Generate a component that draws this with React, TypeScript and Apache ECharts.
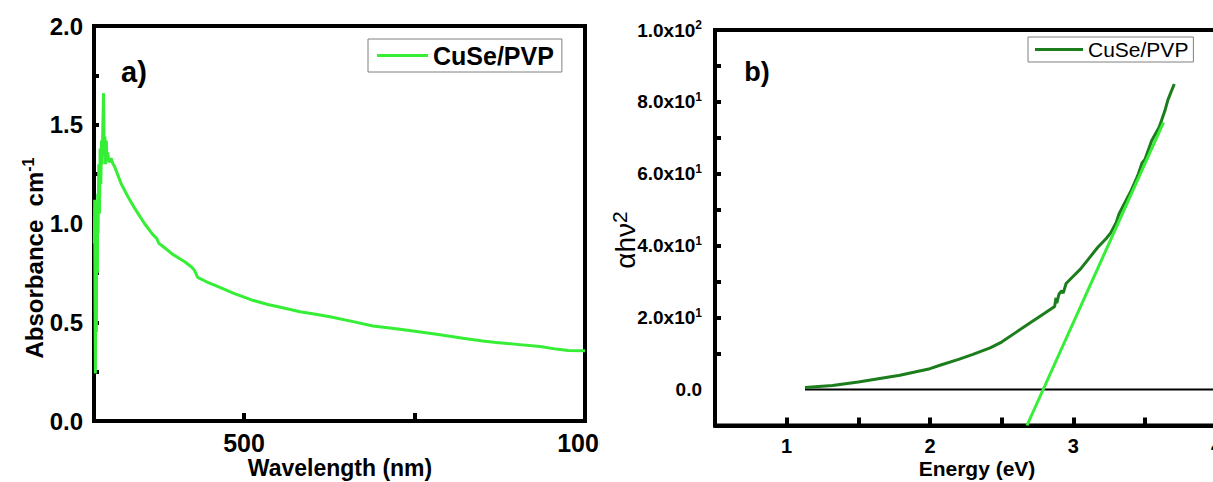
import React, { useEffect, useRef } from "react";
import * as echarts from "echarts";

// ---------- Panel a) data ----------
const wavelengthNm = [
  280.5, 281, 281.5, 282, 282.5, 283, 283.5, 284, 285, 285.5, 286, 287, 288, 289, 290,
  291, 292, 293, 294, 295, 296, 297, 298, 299, 300, 302, 305, 308, 310, 315, 320, 330,
  340, 354, 366, 372, 375, 379, 395, 413, 423, 427, 432, 445, 462, 486, 511, 535, 560,
  582, 605, 626, 660, 689, 720, 748, 785, 821, 850, 870, 900, 934, 958, 975, 1000,
];
const absorbance = [
  0.9, 1.12, 0.6, 0.24, 0.5, 0.9, 0.45, 1.1, 0.75, 1.15, 0.95, 1.3, 1.05, 1.38, 1.2,
  1.42, 1.3, 1.5, 1.66, 1.35, 1.44, 1.3, 1.42, 1.32, 1.36, 1.31, 1.33, 1.3, 1.29, 1.245,
  1.2, 1.134, 1.075, 1.0, 0.945, 0.925, 0.9, 0.89, 0.845, 0.806, 0.78, 0.765, 0.727,
  0.705, 0.68, 0.645, 0.613, 0.59, 0.571, 0.553, 0.54, 0.528, 0.503, 0.481, 0.468,
  0.456, 0.438, 0.419, 0.405, 0.397, 0.388, 0.377, 0.364, 0.357, 0.356,
];
const aXLabelValues = [500, 1000];
const aXTickValues = [500, 750];
const aYTickValues = [0.25, 0.5, 0.75, 1, 1.25, 1.5, 1.75];

// ---------- Panel b) data ----------
const energyEv = [
  1.128, 1.32, 1.5, 1.79, 2.0, 2.07, 2.2, 2.3, 2.42, 2.5, 2.6, 2.7, 2.8, 2.87, 2.88,
  2.885, 2.9, 2.92, 2.93, 2.95, 3.0, 3.05, 3.11, 3.17, 3.23, 3.26, 3.3, 3.32, 3.36, 3.38,
  3.4, 3.43, 3.45, 3.48, 3.5, 3.547, 3.6, 3.64, 3.66, 3.68, 3.705,
];
const ahv2 = [
  0.55, 1.1, 2.1, 4.0, 5.8, 6.75, 8.4, 9.8, 11.6, 13.2, 15.9, 18.6, 21.2, 23.1, 25.5,
  24.0, 26.5, 27.5, 26.8, 29.5, 31.5, 33.5, 36.5, 39.5, 42, 43.5, 46.5, 48.9, 52, 53.5,
  55, 57.7, 59.5, 63, 64, 69.2, 73, 77.6, 80.5, 82.5, 85,
];
const fitEnergy = [2.677, 3.63];
const fitValue = [-10, 74.3];
const zeroEnergy = [1.128, 4.5];
const zeroValue = [0, 0];
const bXLabelValues = [1, 2, 3, 4];
const bXTickValues = [1, 1.5, 2, 2.5, 3, 3.5, 4];
const bYLabelValues = [0, 20, 40, 60, 80, 100];
const bYTickValues = [10, 20, 30, 40, 50, 60, 70, 80, 90];

const LEGEND_NAME = "CuSe/PVP";
const FONT = "'Liberation Sans', Arial, Helvetica, sans-serif";
const BRIGHT = "#36ee36";
const DARK = "#1c7d1c";

const zip = (xs: number[], ys: number[]) => xs.map((x, i) => [x, ys[i]]);

function sciLabel(v: number): string {
  if (v === 0) return "{m|0.0}";
  const exp = Math.floor(Math.log10(Math.abs(v)) + 1e-9);
  const mant = v / Math.pow(10, exp);
  return `{m|${mant.toFixed(1)}x10}{s|${exp}}`;
}

export default function App() {
  const leftRef = useRef<HTMLDivElement>(null);
  const rightRef = useRef<HTMLDivElement>(null);

  useEffect(() => {
    if (!leftRef.current || !rightRef.current) return;
    const left = echarts.init(leftRef.current, undefined, { renderer: "svg" });
    const right = echarts.init(rightRef.current, undefined, { renderer: "svg" });

    const axisLine = { show: true, onZero: false, lineStyle: { color: "#000", width: 4 } };

    left.setOption({
      animation: false,
      backgroundColor: "#fff",
      grid: {
        left: 94,
        top: 26,
        right: 15,
        bottom: 61,
        containLabel: false,
        outerBoundsMode: "none",
        show: true,
        borderColor: "#000",
        borderWidth: 4,
      },
      xAxis: {
        type: "value",
        min: 280,
        max: 1000,
        axisLine,
        axisTick: {
          show: true,
          inside: true,
          length: 8,
          customValues: aXTickValues,
          lineStyle: { color: "#000", width: 4 },
        },
        axisLabel: {
          customValues: aXLabelValues,
          formatter: (v: number) => String(v),
          color: "#000",
          fontSize: 25,
          fontWeight: "bold",
          fontFamily: FONT,
          margin: 9,
        },
        splitLine: { show: false },
      },
      yAxis: {
        type: "value",
        min: 0,
        max: 2,
        interval: 0.5,
        axisLine,
        axisTick: {
          show: true,
          inside: true,
          length: 5,
          customValues: aYTickValues,
          lineStyle: { color: "#000", width: 4 },
        },
        axisLabel: {
          formatter: (v: number) => v.toFixed(1),
          color: "#000",
          fontSize: 24,
          fontWeight: "bold",
          fontFamily: FONT,
          margin: 11,
        },
        splitLine: { show: false },
      },
      legend: {
        data: [{ name: LEGEND_NAME, icon: "rect" }],
        left: 368,
        top: 39,
        orient: "horizontal",
        padding: [4, 8, 4, 9],
        borderColor: "#808080",
        borderWidth: 1,
        itemWidth: 51,
        itemHeight: 3,
        itemGap: 5,
        textStyle: {
          color: "#000",
          fontSize: 25,
          fontWeight: "bold",
          fontFamily: FONT,
          lineHeight: 22,
        },
      },
      series: [
        {
          type: "line",
          name: LEGEND_NAME,
          data: zip(wavelengthNm, absorbance),
          symbol: "none",
          lineStyle: { color: BRIGHT, width: 3 },
          itemStyle: { color: BRIGHT },
        },
      ],
      graphic: [
        {
          type: "text",
          x: 134,
          y: 72,
          style: {
            text: "a)",
            fill: "#000",
            fontSize: 29,
            fontWeight: "bold",
            fontFamily: FONT,
            align: "center",
            verticalAlign: "middle",
          },
        },
        {
          type: "text",
          x: 34,
          y: 258,
          rotation: Math.PI / 2,
          style: {
            text: "{t|Absorbance  cm}{s|-1}",
            fill: "#000",
            align: "center",
            verticalAlign: "middle",
            rich: {
              t: { fontSize: 24, fontWeight: "bold", fontFamily: FONT, fill: "#000", lineHeight: 28 },
              s: { fontSize: 16, fontWeight: "bold", fontFamily: FONT, fill: "#000", lineHeight: 16, verticalAlign: "top" },
            },
          },
        },
        {
          type: "text",
          x: 340,
          y: 468,
          style: {
            text: "Wavelength (nm)",
            fill: "#000",
            fontSize: 23,
            fontWeight: "bold",
            fontFamily: FONT,
            align: "center",
            verticalAlign: "middle",
          },
        },
      ],
    });

    right.setOption({
      animation: false,
      backgroundColor: "#fff",
      grid: {
        left: 115,
        top: 30,
        width: 573.2,
        bottom: 56.5,
        containLabel: false,
        outerBoundsMode: "none",
        show: true,
        borderColor: "#000",
        borderWidth: 4,
      },
      xAxis: {
        type: "value",
        min: 0.5,
        max: 4.5,
        axisLine,
        axisTick: {
          show: true,
          inside: true,
          length: 8,
          customValues: bXTickValues,
          lineStyle: { color: "#000", width: 4 },
        },
        axisLabel: {
          customValues: bXLabelValues,
          formatter: (v: number) => String(v),
          color: "#000",
          fontSize: 20,
          fontWeight: "bold",
          fontFamily: FONT,
          margin: 10,
        },
        splitLine: { show: false },
      },
      yAxis: {
        type: "value",
        min: -10,
        max: 100,
        axisLine,
        axisTick: {
          show: true,
          inside: true,
          length: 6,
          customValues: bYTickValues,
          lineStyle: { color: "#000", width: 4 },
        },
        axisLabel: {
          customValues: bYLabelValues,
          formatter: (v: number) => sciLabel(v),
          color: "#000",
          fontSize: 19,
          fontWeight: "bold",
          fontFamily: FONT,
          margin: 13,
          rich: {
            m: { fontSize: 19, fontWeight: "bold", fontFamily: FONT, color: "#000", lineHeight: 22 },
            s: { fontSize: 12, fontWeight: "bold", fontFamily: FONT, color: "#000", lineHeight: 12, verticalAlign: "top" },
          },
        },
        splitLine: { show: false },
      },
      legend: {
        data: [{ name: LEGEND_NAME, icon: "rect" }],
        left: 428,
        top: 37,
        orient: "horizontal",
        padding: [2, 5, 2, 7],
        borderColor: "#808080",
        borderWidth: 1,
        itemWidth: 48,
        itemHeight: 3,
        itemGap: 5,
        textStyle: {
          color: "#000",
          fontSize: 21,
          fontFamily: FONT,
          lineHeight: 21,
        },
      },
      series: [
        {
          type: "line",
          name: "zero",
          data: zip(zeroEnergy, zeroValue),
          symbol: "none",
          lineStyle: { color: "#000", width: 2 },
          itemStyle: { color: "#000" },
        },
        {
          type: "line",
          name: LEGEND_NAME,
          data: zip(energyEv, ahv2),
          symbol: "none",
          lineStyle: { color: DARK, width: 3 },
          itemStyle: { color: DARK },
        },
        {
          type: "line",
          name: "fit",
          data: zip(fitEnergy, fitValue),
          symbol: "none",
          lineStyle: { color: BRIGHT, width: 3 },
          itemStyle: { color: BRIGHT },
        },
      ],
      graphic: [
        {
          type: "text",
          x: 157,
          y: 72,
          style: {
            text: "b)",
            fill: "#000",
            fontSize: 27,
            fontWeight: "bold",
            fontFamily: FONT,
            align: "center",
            verticalAlign: "middle",
          },
        },
        {
          type: "text",
          x: 25,
          y: 240,
          rotation: Math.PI / 2,
          style: {
            text: "{a|\u03b1h\u03bd}{b|2}",
            fill: "#000",
            align: "center",
            verticalAlign: "middle",
            rich: {
              a: { fontSize: 28, fontFamily: FONT, fill: "#000", lineHeight: 32 },
              b: { fontSize: 21, fontFamily: FONT, fill: "#000", lineHeight: 21, verticalAlign: "top" },
            },
          },
        },
        {
          type: "text",
          x: 377,
          y: 468,
          style: {
            text: "Energy (eV)",
            fill: "#000",
            fontSize: 21,
            fontWeight: "bold",
            fontFamily: FONT,
            align: "center",
            verticalAlign: "middle",
          },
        },
      ],
    });

    return () => {
      left.dispose();
      right.dispose();
    };
  }, []);

  return (
    <div
      style={{
        position: "absolute",
        left: 0,
        top: 0,
        width: 1213,
        height: 482,
        overflow: "hidden",
        background: "#fff",
      }}
    >
      <div
        style={{ position: "absolute", left: 0, top: 0, width: 600, height: 482, overflow: "hidden" }}
      >
        <div ref={leftRef} style={{ width: 600, height: 482 }} />
      </div>
      <div
        style={{ position: "absolute", left: 600, top: 0, width: 613, height: 482, overflow: "hidden" }}
      >
        <div ref={rightRef} style={{ width: 720, height: 482 }} />
      </div>
    </div>
  );
}
